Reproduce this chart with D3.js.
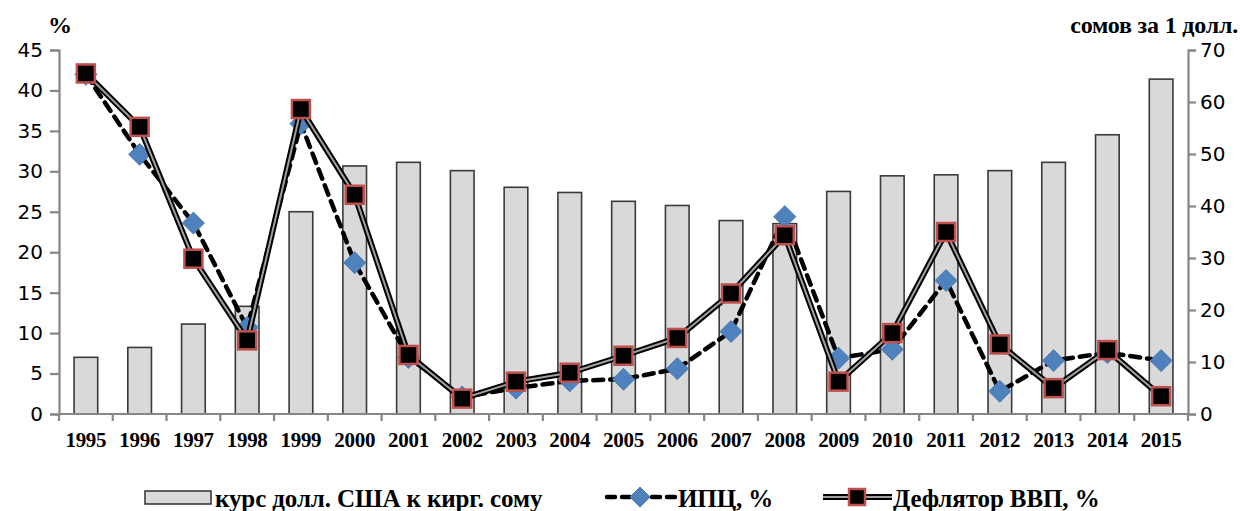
<!DOCTYPE html>
<html>
<head>
<meta charset="utf-8">
<script src="https://cdn.jsdelivr.net/npm/d3@7"></script>
<style>
  body { margin: 0; background: #fff; }
  text { font-family: "Liberation Serif", serif; font-weight: bold; fill: #000; }
  .num text { font-family: "DejaVu Sans", sans-serif; font-weight: normal; font-size: 20px; }
</style>
</head>
<body>
<script>
// years on x axis
var years = ['1995','1996','1997','1998','1999','2000','2001','2002','2003','2004','2005',
  '2006','2007','2008','2009','2010','2011','2012','2013','2014','2015'];
// exchange rate, somov per 1 USD (right axis)
var rate = [10.9, 12.8, 17.3, 20.7, 38.9, 47.7, 48.4, 46.8, 43.6, 42.6, 40.9,
  40.1, 37.2, 36.6, 42.8, 45.8, 46.0, 46.8, 48.4, 53.7, 64.4];
// CPI, % (left axis)
var cpi = [42.0, 32.1, 23.6, 10.7, 35.9, 18.7, 7.0, 2.1, 3.2, 4.1, 4.3,
  5.6, 10.2, 24.4, 6.9, 8.0, 16.5, 2.8, 6.6, 7.6, 6.6];
// GDP deflator, % (left axis)
var deflator = [42.1, 35.5, 19.2, 9.1, 37.7, 27.1, 7.3, 1.9, 4.0, 5.1, 7.2,
  9.4, 14.9, 22.1, 4.0, 10.0, 22.5, 8.6, 3.2, 7.9, 2.2];
var leftTicks = [0, 5, 10, 15, 20, 25, 30, 35, 40, 45];
var rightTicks = [0, 10, 20, 30, 40, 50, 60, 70];

var W = 1240, H = 511;
var x0 = 59, x1 = 1188, yTop = 50, yBot = 414;

var svg = d3.select("body").append("svg")
  .attr("width", W).attr("height", H);

var x = d3.scaleBand().domain(years).range([x0, x1]);
var yL = d3.scaleLinear().domain([0, 45]).range([yBot, yTop]);
var yR = d3.scaleLinear().domain([0, 70]).range([yBot, yTop]);

// bars
var bw = x.bandwidth() * 0.44;
svg.append("g").selectAll("rect")
  .data(rate)
  .enter().append("rect")
    .attr("x", function(d, i) { return x(years[i]) + x.bandwidth() / 2 - bw / 2; })
    .attr("y", function(d) { return yR(d); })
    .attr("width", bw)
    .attr("height", function(d) { return yBot - yR(d); })
    .attr("fill", "#d9d9d9")
    .attr("stroke", "#3a3a3a")
    .attr("stroke-width", 1.6);

// axes
var axisCol = "#868686";
var gl = svg.append("g").attr("class", "num")
  .attr("transform", "translate(" + x0 + ",0)")
  .call(d3.axisLeft(yL).tickValues(leftTicks).tickSize(9).tickPadding(7));
var gr = svg.append("g").attr("class", "num")
  .attr("transform", "translate(" + x1 + ",0)")
  .call(d3.axisRight(yR).tickValues(rightTicks).tickSize(8).tickPadding(4));
[gl, gr].forEach(function(g) {
  g.select(".domain").attr("stroke", axisCol).attr("stroke-width", 2.2);
  g.selectAll(".tick line").attr("stroke", axisCol).attr("stroke-width", 2.2);
});

// x axis with ticks between categories
var gx = svg.append("g").attr("transform", "translate(0," + yBot + ")");
gx.append("line").attr("x1", x0).attr("x2", x1)
  .attr("stroke", axisCol).attr("stroke-width", 2.2);
gx.selectAll(".xt").data(years.concat(["end"]))
  .enter().append("line")
    .attr("x1", function(d, i) { return x0 + i * x.step(); })
    .attr("x2", function(d, i) { return x0 + i * x.step(); })
    .attr("y1", 0).attr("y2", 7)
    .attr("stroke", axisCol).attr("stroke-width", 2.2);
gx.selectAll(".xl").data(years)
  .enter().append("text")
    .attr("x", function(d) { return x(d) + x.bandwidth() / 2; })
    .attr("y", 33)
    .attr("text-anchor", "middle")
    .attr("font-size", 21)
    .attr("letter-spacing", -0.3)
    .text(function(d) { return d; });

// CPI line
var cx = function(d, i) { return x(years[i]) + x.bandwidth() / 2; };
var lineL = d3.line().x(cx).y(function(d) { return yL(d); });

svg.append("path").datum(cpi)
  .attr("d", lineL)
  .attr("fill", "none")
  .attr("stroke", "#000")
  .attr("stroke-width", 4.5)
  .attr("stroke-dasharray", "10,7")
  .attr("stroke-linecap", "round");

function diamond(sel, s) {
  sel.attr("d", "M0," + (-s) + "L" + s + ",0L0," + s + "L" + (-s) + ",0Z")
    .attr("fill", "#4f81bd").attr("stroke", "#4a7ab5").attr("stroke-width", 1);
}
svg.append("g").selectAll("path")
  .data(cpi).enter().append("path")
    .attr("transform", function(d, i) { return "translate(" + cx(d, i) + "," + yL(d) + ")"; })
    .call(diamond, 11);

// deflator line (double style)
svg.append("path").datum(deflator)
  .attr("d", lineL)
  .attr("fill", "none")
  .attr("stroke", "#000")
  .attr("stroke-width", 6);
svg.append("path").datum(deflator)
  .attr("d", lineL)
  .attr("fill", "none")
  .attr("stroke", "#a0a0a0")
  .attr("stroke-width", 2);

svg.append("g").selectAll("rect")
  .data(deflator).enter().append("rect")
    .attr("x", function(d, i) { return cx(d, i) - 9; })
    .attr("y", function(d) { return yL(d) - 9; })
    .attr("width", 18).attr("height", 18)
    .attr("fill", "#000")
    .attr("stroke", "#c0504d")
    .attr("stroke-width", 2.5);

// axis titles
svg.append("text").attr("x", 48).attr("y", 33)
  .attr("font-size", 24).text("%");
svg.append("text").attr("x", 1238).attr("y", 33)
  .attr("text-anchor", "end").attr("font-size", 24)
  .attr("letter-spacing", -0.2)
  .text("сомов за 1 долл.");

// legend
var lg = svg.append("g").attr("transform", "translate(0,497)");
lg.append("rect").attr("x", 145).attr("y", -6).attr("width", 66).attr("height", 13)
  .attr("fill", "#d9d9d9").attr("stroke", "#3a3a3a").attr("stroke-width", 1.6);
lg.append("text").attr("x", 215).attr("y", 10).attr("font-size", 25)
  .attr("letter-spacing", -0.1).text("курс долл. США к кирг. сому");

lg.append("line").attr("x1", 607).attr("x2", 675).attr("y1", 0).attr("y2", 0)
  .attr("stroke", "#000").attr("stroke-width", 4.5)
  .attr("stroke-dasharray", "8,7").attr("stroke-linecap", "round");
lg.append("path").attr("transform", "translate(640,0)").call(diamond, 10);
lg.append("text").attr("x", 678).attr("y", 10).attr("font-size", 25)
  .attr("letter-spacing", -0.1).text("ИПЦ, %");

lg.append("line").attr("x1", 823).attr("x2", 892).attr("y1", 0).attr("y2", 0)
  .attr("stroke", "#000").attr("stroke-width", 6);
lg.append("line").attr("x1", 823).attr("x2", 892).attr("y1", 0).attr("y2", 0)
  .attr("stroke", "#a0a0a0").attr("stroke-width", 2);
lg.append("rect").attr("x", 849).attr("y", -8).attr("width", 16).attr("height", 16)
  .attr("fill", "#000").attr("stroke", "#c0504d").attr("stroke-width", 2.5);
lg.append("text").attr("x", 893).attr("y", 10).attr("font-size", 25)
  .attr("letter-spacing", -0.1).text("Дефлятор ВВП, %");
</script>
</body>
</html>
